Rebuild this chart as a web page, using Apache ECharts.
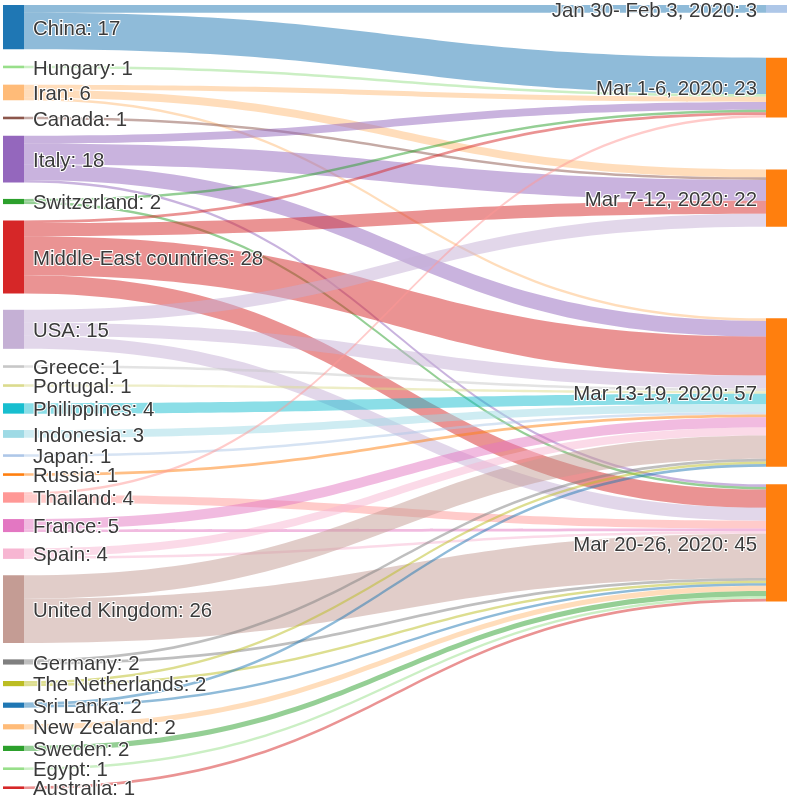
<!DOCTYPE html>
<html><head><meta charset="utf-8">
<script src="https://cdn.jsdelivr.net/npm/echarts@6/dist/echarts.min.js"></script>
<style>html,body{margin:0;padding:0;background:#fff}#c{width:789px;height:796px}</style>
</head><body><div id="c"></div>
<script>
// Origins (left column)
const origins = ['China','Hungary','Iran','Canada','Italy','Switzerland','Middle-East countries','USA','Greece','Portugal','Philippines','Indonesia','Japan','Russia','Thailand','France','Spain','United Kingdom','Germany','The Netherlands','Sri Lanka','New Zealand','Sweden','Egypt','Australia'];
// Periods (right column)
const periods = ['Jan 30- Feb 3, 2020','Mar 1-6, 2020','Mar 7-12, 2020','Mar 13-19, 2020','Mar 20-26, 2020'];

// Flows: origin -> period : number of cases
const linkFrom = ['China','China','Hungary','Iran','Iran','Iran','Canada','Italy','Italy','Italy','Italy','Switzerland','Switzerland','Middle-East countries','Middle-East countries','Middle-East countries','Middle-East countries','USA','USA','USA','Greece','Portugal','Philippines','Indonesia','Japan','Russia','Thailand','Thailand','France','France','Spain','Spain','United Kingdom','United Kingdom','Germany','Germany','The Netherlands','The Netherlands','Sri Lanka','Sri Lanka','New Zealand','Sweden','Egypt','Australia'];
const linkTo = [0,1,1,1,2,3,2,1,2,3,4,1,4,1,2,3,4,2,3,4,3,3,3,3,3,3,1,4,3,4,3,4,3,4,3,4,3,4,3,4,4,4,4,4];
const linkValue = [3,14,1,2,3,1,1,3,8,6,1,1,1,1,5,15,7,5,5,5,1,1,4,3,1,1,1,3,4,1,3,1,9,17,1,1,1,1,1,1,2,2,1,1];

// Styling
const originColors = ['#1f77b4','#98df8a','#ffbb78','#8c564b','#9467bd','#2ca02c','#d62728','#c5b0d5','#c7c7c7','#dbdb8d','#17becf','#9edae5','#aec7e8','#ff7f0e','#ff9896','#e377c2','#f7b6d2','#c49c94','#7f7f7f','#bcbd22','#1f77b4','#ffbb78','#2ca02c','#98df8a','#d62728'];
const periodColors = ['#aec7e8','#ff7f0e','#ff7f0e','#ff7f0e','#ff7f0e'];
const periodLocalY = [0, 0.0672, 0.2098, 0.3996, 0.6114];

const totals = {};
linkFrom.forEach((s, i) => {
  const t = periods[linkTo[i]];
  totals[s] = (totals[s] || 0) + linkValue[i];
  totals[t] = (totals[t] || 0) + linkValue[i];
});

const nodes = origins.map((n, i) => ({
  name: n,
  itemStyle: { color: originColors[i] },
  label: { position: 'right' }
})).concat(periods.map((n, i) => ({
  name: n,
  localY: periodLocalY[i],
  itemStyle: { color: periodColors[i] },
  label: { position: 'left' }
})));

const links = linkFrom.map((s, i) => ({ source: s, target: periods[linkTo[i]], value: linkValue[i] }));

const chart = echarts.init(document.getElementById('c'), null, { renderer: 'canvas' });
chart.setOption({
  animation: false,
  backgroundColor: '#fff',
  series: [{
    type: 'sankey',
    left: 3, top: 5, right: 2, bottom: 7,
    nodeWidth: 21,
    nodeGap: 16.4,
    layoutIterations: 0,
    draggable: false,
    emphasis: { disabled: true },
    data: nodes,
    links: links,
    itemStyle: { borderWidth: 0 },
    lineStyle: { color: 'source', opacity: 0.5, curveness: 0.5 },
    label: {
      show: true,
      distance: 9,
      offset: [0, 2],
      fontFamily: 'Arial, "Liberation Sans", sans-serif',
      fontSize: 20.4,
      color: '#3a3a3a',
      textBorderColor: '#fff',
      textBorderWidth: 2,
      formatter: p => p.name + ': ' + totals[p.name]
    }
  }]
});
</script>
</body></html>
